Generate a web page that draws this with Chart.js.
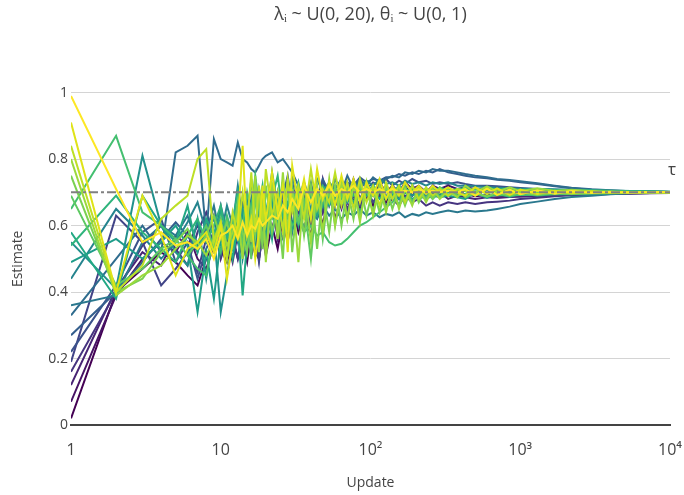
<!DOCTYPE html>
<html>
<head>
<meta charset="utf-8">
<script src="https://cdn.jsdelivr.net/npm/chart.js@4.4.0/dist/chart.umd.min.js"></script>
<style>
  html, body { margin: 0; padding: 0; background: #fff; }
  #wrap { width: 684px; height: 495px; }
</style>
</head>
<body>
<div id="wrap"><canvas id="canvas"></canvas></div>
<script>
// update counts shared by every run
const updates = [
  1, 2, 3, 4, 5, 6, 7, 8, 9, 10,
  11, 12, 13, 14, 15, 16, 17, 18, 19, 20,
  22, 24, 26, 28, 30, 33, 36, 40, 44, 48,
  53, 58, 64, 70, 77, 85, 94, 104, 115, 127,
  140, 155, 170, 190, 210, 235, 260, 290, 330, 380,
  430, 500, 600, 700, 850, 1000, 1300, 1700, 2200, 3000, 4000, 5500, 7500, 10000];

// estimate per run (purple -> yellow)
const run0 = [0.02, 0.40, 0.47, 0.52, 0.49, 0.45, 0.42, 0.50, 0.55, 0.53,
  0.49, 0.56, 0.50, 0.55, 0.49, 0.58, 0.52, 0.50, 0.57, 0.51,
  0.60, 0.53, 0.62, 0.55, 0.66, 0.58, 0.64, 0.57, 0.68, 0.60,
  0.70, 0.62, 0.69, 0.64, 0.71, 0.65, 0.70, 0.66, 0.72, 0.67,
  0.71, 0.68, 0.72, 0.69, 0.71, 0.68, 0.70, 0.69, 0.71, 0.69,
  0.695, 0.688, 0.692, 0.69, 0.688, 0.69, 0.692, 0.693, 0.694, 0.695, 0.696, 0.697, 0.698, 0.699];
const run1 = [0.07, 0.39, 0.50, 0.55, 0.52, 0.58, 0.50, 0.47, 0.54, 0.60,
  0.52, 0.57, 0.62, 0.53, 0.59, 0.51, 0.55, 0.63, 0.56, 0.60,
  0.66, 0.57, 0.64, 0.55, 0.67, 0.60, 0.72, 0.62, 0.70, 0.64,
  0.73, 0.66, 0.72, 0.67, 0.74, 0.68, 0.72, 0.69, 0.73, 0.70,
  0.72, 0.70, 0.73, 0.71, 0.72, 0.70, 0.72, 0.71, 0.72, 0.71,
  0.715, 0.71, 0.712, 0.708, 0.71, 0.707, 0.708, 0.706, 0.706, 0.705, 0.704, 0.703, 0.702, 0.701];
const run2 = [0.12, 0.41, 0.52, 0.48, 0.57, 0.54, 0.60, 0.55, 0.63, 0.50,
  0.56, 0.49, 0.58, 0.53, 0.64, 0.55, 0.60, 0.50, 0.58, 0.54,
  0.68, 0.56, 0.62, 0.72, 0.60, 0.66, 0.58, 0.70, 0.63, 0.74,
  0.66, 0.71, 0.65, 0.72, 0.67, 0.73, 0.68, 0.71, 0.69, 0.72,
  0.69, 0.71, 0.68, 0.72, 0.70, 0.71, 0.69, 0.70, 0.68, 0.69,
  0.685, 0.68, 0.685, 0.683, 0.686, 0.687, 0.689, 0.69, 0.692, 0.693, 0.695, 0.696, 0.697, 0.698];
const run3 = [0.16, 0.40, 0.54, 0.60, 0.53, 0.48, 0.58, 0.64, 0.57, 0.62,
  0.53, 0.59, 0.66, 0.55, 0.61, 0.68, 0.57, 0.64, 0.55, 0.62,
  0.70, 0.60, 0.67, 0.58, 0.73, 0.64, 0.69, 0.61, 0.70, 0.64,
  0.72, 0.66, 0.70, 0.65, 0.69, 0.66, 0.70, 0.67, 0.69, 0.66,
  0.68, 0.66, 0.69, 0.67, 0.68, 0.66, 0.67, 0.66, 0.67, 0.665,
  0.67, 0.665, 0.67, 0.672, 0.675, 0.68, 0.684, 0.688, 0.692, 0.695, 0.697, 0.698, 0.699, 0.70];
const run4 = [0.19, 0.63, 0.55, 0.42, 0.47, 0.52, 0.46, 0.56, 0.52, 0.60,
  0.51, 0.57, 0.50, 0.59, 0.54, 0.63, 0.57, 0.49, 0.59, 0.64,
  0.57, 0.67, 0.59, 0.64, 0.72, 0.61, 0.68, 0.60, 0.70, 0.65,
  0.72, 0.66, 0.70, 0.64, 0.69, 0.66, 0.71, 0.67, 0.70, 0.68,
  0.71, 0.68, 0.70, 0.69, 0.71, 0.69, 0.70, 0.69, 0.705, 0.69,
  0.71, 0.69, 0.708, 0.692, 0.705, 0.695, 0.703, 0.697, 0.701, 0.699, 0.70, 0.70, 0.70, 0.70];
const run5 = [0.22, 0.42, 0.58, 0.62, 0.49, 0.55, 0.44, 0.53, 0.58, 0.51,
  0.62, 0.55, 0.66, 0.58, 0.53, 0.64, 0.58, 0.70, 0.61, 0.56,
  0.66, 0.60, 0.73, 0.64, 0.58, 0.68, 0.63, 0.71, 0.66, 0.73,
  0.67, 0.71, 0.69, 0.73, 0.70, 0.74, 0.71, 0.73, 0.72, 0.74,
  0.72, 0.735, 0.725, 0.74, 0.73, 0.735, 0.725, 0.73, 0.725, 0.73,
  0.725, 0.72, 0.72, 0.718, 0.715, 0.713, 0.71, 0.707, 0.705, 0.703, 0.702, 0.701, 0.70, 0.70];
const run6 = [0.27, 0.40, 0.49, 0.56, 0.61, 0.57, 0.52, 0.60, 0.55, 0.66,
  0.58, 0.63, 0.56, 0.68, 0.60, 0.65, 0.72, 0.62, 0.67, 0.60,
  0.71, 0.64, 0.69, 0.75, 0.66, 0.71, 0.65, 0.72, 0.68, 0.74,
  0.70, 0.72, 0.71, 0.73, 0.72, 0.745, 0.73, 0.74, 0.735, 0.745,
  0.745, 0.755, 0.75, 0.76, 0.755, 0.765, 0.76, 0.77, 0.76, 0.755,
  0.75, 0.745, 0.742, 0.738, 0.735, 0.73, 0.725, 0.718, 0.712, 0.708, 0.705, 0.703, 0.702, 0.701];
const run7 = [0.33, 0.50, 0.60, 0.52, 0.82, 0.84, 0.87, 0.57, 0.86, 0.80,
  0.79, 0.78, 0.85, 0.80, 0.79, 0.77, 0.76, 0.78, 0.80, 0.81,
  0.82, 0.79, 0.80, 0.78, 0.76, 0.72, 0.66, 0.73, 0.64, 0.71,
  0.68, 0.74, 0.70, 0.75, 0.71, 0.74, 0.72, 0.745, 0.73, 0.74,
  0.75, 0.745, 0.76, 0.755, 0.765, 0.76, 0.77, 0.765, 0.765, 0.76,
  0.755, 0.75, 0.745, 0.74, 0.737, 0.733, 0.727, 0.72, 0.714, 0.709, 0.706, 0.703, 0.702, 0.701];
const run8 = [0.36, 0.39, 0.55, 0.60, 0.57, 0.63, 0.54, 0.58, 0.66, 0.56,
  0.52, 0.61, 0.55, 0.64, 0.57, 0.52, 0.60, 0.55, 0.63, 0.58,
  0.67, 0.60, 0.56, 0.64, 0.59, 0.62, 0.60, 0.64, 0.62, 0.66,
  0.63, 0.65, 0.62, 0.64, 0.63, 0.65, 0.63, 0.64, 0.625, 0.635,
  0.63, 0.64, 0.625, 0.635, 0.63, 0.64, 0.635, 0.64, 0.645, 0.64,
  0.645, 0.642, 0.645, 0.65, 0.657, 0.665, 0.672, 0.68, 0.686, 0.69, 0.694, 0.697, 0.698, 0.699];
const run9 = [0.44, 0.65, 0.57, 0.50, 0.55, 0.61, 0.67, 0.58, 0.62, 0.57,
  0.66, 0.60, 0.72, 0.62, 0.68, 0.58, 0.74, 0.64, 0.70, 0.61,
  0.76, 0.66, 0.72, 0.64, 0.75, 0.68, 0.73, 0.67, 0.74, 0.70,
  0.73, 0.71, 0.74, 0.70, 0.73, 0.715, 0.735, 0.72, 0.74, 0.725,
  0.73, 0.72, 0.735, 0.725, 0.73, 0.72, 0.73, 0.725, 0.73, 0.72,
  0.72, 0.718, 0.716, 0.714, 0.712, 0.711, 0.71, 0.709, 0.708, 0.707, 0.705, 0.704, 0.703, 0.702];
const run10 = [0.55, 0.41, 0.81, 0.60, 0.52, 0.48, 0.62, 0.44, 0.58, 0.34,
  0.45, 0.55, 0.63, 0.50, 0.58, 0.66, 0.55, 0.62, 0.70, 0.58,
  0.66, 0.60, 0.73, 0.64, 0.68, 0.61, 0.71, 0.65, 0.70, 0.66,
  0.71, 0.68, 0.70, 0.69, 0.71, 0.68, 0.70, 0.69, 0.71, 0.69,
  0.70, 0.69, 0.71, 0.69, 0.70, 0.69, 0.705, 0.69, 0.70, 0.695,
  0.705, 0.69, 0.708, 0.692, 0.706, 0.694, 0.704, 0.697, 0.702, 0.698, 0.70, 0.70, 0.70, 0.70];
const run11 = [0.49, 0.56, 0.50, 0.55, 0.60, 0.54, 0.34, 0.52, 0.38, 0.56,
  0.61, 0.53, 0.58, 0.65, 0.56, 0.63, 0.59, 0.69, 0.62, 0.57,
  0.67, 0.61, 0.73, 0.63, 0.69, 0.60, 0.68, 0.64, 0.71, 0.66,
  0.70, 0.68, 0.71, 0.67, 0.70, 0.68, 0.71, 0.69, 0.70, 0.68,
  0.69, 0.68, 0.70, 0.68, 0.69, 0.68, 0.69, 0.685, 0.69, 0.685,
  0.68, 0.70, 0.683, 0.698, 0.686, 0.697, 0.69, 0.696, 0.694, 0.697, 0.698, 0.699, 0.70, 0.70];
const run12 = [0.58, 0.38, 0.69, 0.60, 0.55, 0.66, 0.52, 0.62, 0.57, 0.64,
  0.58, 0.50, 0.60, 0.39, 0.55, 0.67, 0.58, 0.71, 0.61, 0.66,
  0.56, 0.70, 0.63, 0.67, 0.59, 0.72, 0.64, 0.69, 0.63, 0.70,
  0.66, 0.71, 0.68, 0.70, 0.67, 0.71, 0.69, 0.70, 0.68, 0.71,
  0.69, 0.71, 0.70, 0.71, 0.69, 0.705, 0.70, 0.71, 0.70, 0.705,
  0.715, 0.70, 0.713, 0.70, 0.71, 0.70, 0.708, 0.70, 0.705, 0.701, 0.702, 0.70, 0.70, 0.70];
const run13 = [0.54, 0.69, 0.58, 0.53, 0.49, 0.57, 0.62, 0.55, 0.60, 0.66,
  0.56, 0.61, 0.70, 0.57, 0.63, 0.74, 0.60, 0.66, 0.72, 0.61,
  0.68, 0.75, 0.63, 0.70, 0.66, 0.73, 0.64, 0.71, 0.68, 0.72,
  0.69, 0.71, 0.70, 0.72, 0.69, 0.71, 0.70, 0.72, 0.70, 0.71,
  0.70, 0.72, 0.70, 0.715, 0.70, 0.71, 0.70, 0.715, 0.705, 0.71,
  0.712, 0.708, 0.712, 0.709, 0.711, 0.708, 0.709, 0.707, 0.707, 0.706, 0.705, 0.704, 0.703, 0.702];
const run14 = [0.65, 0.87, 0.64, 0.60, 0.56, 0.51, 0.47, 0.45, 0.58, 0.52,
  0.63, 0.57, 0.66, 0.60, 0.70, 0.64, 0.75, 0.66, 0.70, 0.64,
  0.62, 0.66, 0.60, 0.63, 0.60, 0.62, 0.58, 0.60, 0.57, 0.58,
  0.55, 0.54, 0.545, 0.56, 0.58, 0.60, 0.61, 0.625, 0.64, 0.655,
  0.67, 0.70, 0.68, 0.71, 0.69, 0.70, 0.68, 0.70, 0.69, 0.70,
  0.69, 0.695, 0.688, 0.692, 0.69, 0.692, 0.693, 0.694, 0.695, 0.696, 0.697, 0.698, 0.699, 0.699];
const run15 = [0.69, 0.42, 0.47, 0.53, 0.56, 0.51, 0.55, 0.60, 0.53, 0.62,
  0.50, 0.59, 0.66, 0.54, 0.62, 0.50, 0.70, 0.56, 0.64, 0.52,
  0.71, 0.59, 0.66, 0.55, 0.72, 0.61, 0.67, 0.50, 0.70, 0.56,
  0.72, 0.60, 0.70, 0.62, 0.72, 0.63, 0.71, 0.64, 0.72, 0.65,
  0.71, 0.66, 0.72, 0.67, 0.71, 0.68, 0.715, 0.685, 0.71, 0.69,
  0.695, 0.712, 0.695, 0.71, 0.696, 0.707, 0.698, 0.704, 0.699, 0.702, 0.70, 0.70, 0.70, 0.70];
const run16 = [0.75, 0.40, 0.44, 0.52, 0.55, 0.59, 0.53, 0.57, 0.63, 0.56,
  0.61, 0.54, 0.67, 0.58, 0.52, 0.64, 0.57, 0.69, 0.53, 0.72,
  0.58, 0.66, 0.50, 0.74, 0.52, 0.70, 0.57, 0.72, 0.53, 0.70,
  0.58, 0.72, 0.60, 0.71, 0.62, 0.73, 0.63, 0.71, 0.64, 0.72,
  0.65, 0.71, 0.66, 0.72, 0.67, 0.71, 0.68, 0.715, 0.69, 0.71,
  0.685, 0.70, 0.687, 0.70, 0.69, 0.70, 0.692, 0.699, 0.695, 0.698, 0.699, 0.70, 0.70, 0.70];
const run17 = [0.80, 0.39, 0.45, 0.48, 0.53, 0.57, 0.55, 0.51, 0.56, 0.61,
  0.54, 0.58, 0.63, 0.50, 0.66, 0.55, 0.75, 0.52, 0.70, 0.49,
  0.73, 0.56, 0.76, 0.58, 0.71, 0.49, 0.73, 0.55, 0.72, 0.58,
  0.74, 0.60, 0.73, 0.62, 0.72, 0.61, 0.73, 0.63, 0.72, 0.64,
  0.72, 0.65, 0.71, 0.66, 0.715, 0.67, 0.71, 0.68, 0.705, 0.685,
  0.72, 0.70, 0.718, 0.702, 0.715, 0.703, 0.712, 0.704, 0.708, 0.703, 0.702, 0.701, 0.70, 0.70];
const run18 = [0.84, 0.40, 0.48, 0.62, 0.66, 0.69, 0.80, 0.83, 0.55, 0.61,
  0.50, 0.64, 0.57, 0.70, 0.60, 0.76, 0.58, 0.72, 0.61, 0.77,
  0.63, 0.70, 0.58, 0.74, 0.64, 0.72, 0.62, 0.77, 0.65, 0.71,
  0.67, 0.76, 0.66, 0.73, 0.65, 0.74, 0.67, 0.72, 0.66, 0.73,
  0.68, 0.72, 0.67, 0.72, 0.68, 0.715, 0.69, 0.71, 0.69, 0.71,
  0.705, 0.69, 0.71, 0.693, 0.707, 0.695, 0.705, 0.697, 0.703, 0.698, 0.701, 0.70, 0.70, 0.70];
const run19 = [0.91, 0.40, 0.69, 0.57, 0.45, 0.53, 0.55, 0.58, 0.52, 0.60,
  0.44, 0.55, 0.60, 0.84, 0.57, 0.62, 0.50, 0.58, 0.72, 0.61,
  0.76, 0.64, 0.72, 0.52, 0.78, 0.66, 0.74, 0.62, 0.77, 0.68,
  0.73, 0.66, 0.75, 0.68, 0.74, 0.67, 0.73, 0.69, 0.74, 0.68,
  0.72, 0.69, 0.73, 0.70, 0.72, 0.695, 0.72, 0.70, 0.715, 0.70,
  0.69, 0.715, 0.695, 0.712, 0.692, 0.708, 0.695, 0.705, 0.697, 0.703, 0.699, 0.701, 0.70, 0.70];
const run20 = [0.99, 0.71, 0.55, 0.58, 0.54, 0.55, 0.53, 0.56, 0.50, 0.57,
  0.58, 0.60, 0.56, 0.61, 0.57, 0.60, 0.59, 0.62, 0.60, 0.61,
  0.63, 0.62, 0.66, 0.64, 0.68, 0.65, 0.72, 0.67, 0.71, 0.69,
  0.72, 0.69, 0.71, 0.70, 0.72, 0.70, 0.71, 0.70, 0.71, 0.70,
  0.71, 0.70, 0.705, 0.70, 0.71, 0.70, 0.705, 0.70, 0.705, 0.70,
  0.71, 0.69, 0.712, 0.692, 0.708, 0.694, 0.706, 0.696, 0.704, 0.698, 0.702, 0.699, 0.701, 0.70];

const runs = [run0, run1, run2, run3, run4, run5, run6, run7, run8, run9, run10,
  run11, run12, run13, run14, run15, run16, run17, run18, run19, run20];

const tau = 0.7;
const xTickValues = [1, 10, 100, 1000, 10000];
const xTickLabels = ['1', '10', '10²', '10³', '10⁴'];
const yTickValues = [0, 0.2, 0.4, 0.6, 0.8, 1];
const yTickLabels = ['0', '0.2', '0.4', '0.6', '0.8', '1'];

// viridis
const palette = ['#440154', '#471365', '#482475', '#463480', '#414487', '#3b528b', '#355f8d',
  '#2f6c8e', '#2a788e', '#25848e', '#21918c', '#1e9c89', '#22a884', '#2fb47c', '#44bf70',
  '#5ec962', '#7ad151', '#9bd93c', '#bddf26', '#dfe318', '#fde725'];

const datasets = runs.map((vals, k) => ({
  data: vals.map((v, i) => ({ x: updates[i], y: v })),
  borderColor: palette[k],
  borderWidth: 2,
  pointRadius: 0,
  tension: 0,
  order: runs.length - k + 1,
}));
datasets.push({
  data: [{ x: updates[0], y: tau }, { x: updates[updates.length - 1], y: tau }],
  borderColor: '#808080',
  borderWidth: 2,
  borderDash: [9, 3, 3, 3],
  pointRadius: 0,
  order: 0,
});

const tauLabel = {
  id: 'tauLabel',
  afterDatasetsDraw(chart) {
    const { ctx, scales } = chart;
    const x = scales.x.getPixelForValue(updates[updates.length - 1]);
    const y = scales.y.getPixelForValue(tau);
    ctx.save();
    ctx.font = '17px "Open Sans"';
    ctx.fillStyle = '#444';
    ctx.textAlign = 'center';
    ctx.textBaseline = 'middle';
    ctx.fillText('τ', x + 2, y - 22);
    ctx.restore();
  },
};

new Chart(document.getElementById('canvas'), {
  type: 'line',
  data: { datasets },
  plugins: [tauLabel],
  options: {
    animation: false,
    responsive: true,
    maintainAspectRatio: false,
    layout: { padding: { left: 0, right: 14, top: 0, bottom: 0 } },
    plugins: {
      legend: { display: false },
      tooltip: { enabled: false },
      title: {
        display: true,
        fullSize: false,
        text: 'λᵢ ~ U(0, 20), θᵢ ~ U(0, 1)',
        color: '#444',
        font: { family: 'Open Sans', size: 18, weight: 'normal' },
        padding: { top: 4, bottom: 67 },
      },
    },
    scales: {
      x: {
        type: 'logarithmic',
        min: 1,
        max: 10000,
        afterBuildTicks: (scale) => {
          scale.ticks = xTickValues.map((v) => ({ value: v }));
        },
        afterFit: (scale) => {
          scale.height = 70;
          scale.paddingLeft = 0;
          scale.paddingRight = 0;
        },
        grid: { display: false, drawTicks: false },
        border: { display: true, color: '#444', width: 2 },
        ticks: {
          color: '#444',
          padding: 16,
          maxRotation: 0,
          autoSkip: false,
          font: { family: 'Open Sans', size: 16 },
          callback: (v) => {
            const i = xTickValues.indexOf(v);
            return i >= 0 ? xTickLabels[i] : '';
          },
        },
        title: {
          display: true,
          text: 'Update',
          color: '#444',
          font: { family: 'Open Sans', size: 14 },
          padding: { top: 0, bottom: 4 },
        },
      },
      y: {
        min: 0,
        max: 1,
        afterBuildTicks: (scale) => {
          scale.ticks = yTickValues.map((v) => ({ value: v }));
        },
        afterFit: (scale) => {
          scale.width = 71;
          scale.paddingTop = 0;
          scale.paddingBottom = 0;
        },
        grid: { color: '#d4d4d4', drawTicks: false },
        border: { display: false },
        ticks: {
          color: '#444',
          padding: 3,
          font: { family: 'Open Sans', size: 14 },
          callback: (v) => {
            const i = yTickValues.findIndex((t) => Math.abs(t - v) < 1e-9);
            return i >= 0 ? yTickLabels[i] : '';
          },
        },
        title: {
          display: true,
          text: 'Estimate',
          color: '#444',
          font: { family: 'Open Sans', size: 14 },
          padding: { top: 10, bottom: 0 },
        },
      },
    },
  },
});
</script>
</body>
</html>
